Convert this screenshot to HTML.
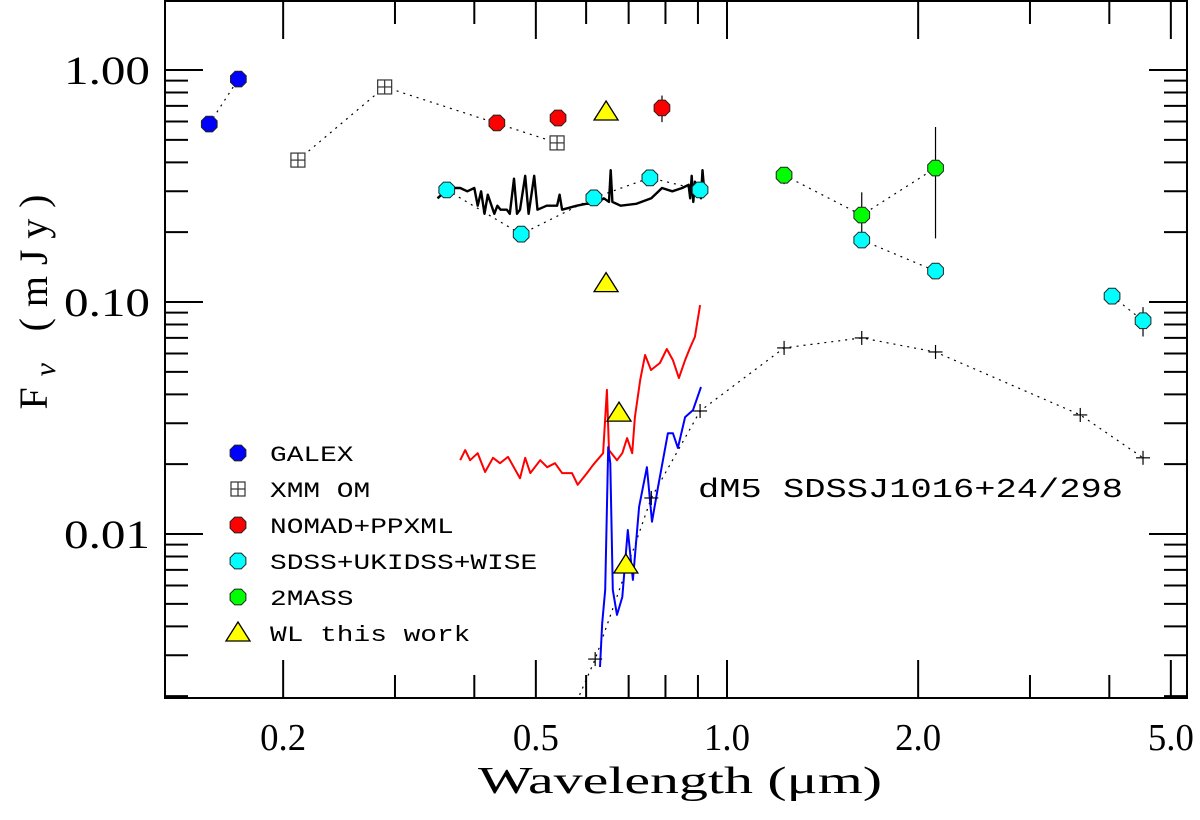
<!DOCTYPE html>
<html><head><meta charset="utf-8">
<style>
html,body{margin:0;padding:0;background:#fff;}
svg{display:block;}
</style></head>
<body>
<svg id="chart" width="1200" height="820" viewBox="0 0 1200 820" xmlns="http://www.w3.org/2000/svg">
<defs><clipPath id="plotclip"><rect x="165" y="1" width="1022" height="697"/></clipPath></defs>
<g id="plot" clip-path="url(#plotclip)"></g>
<rect x="165" y="1" width="1022" height="697" fill="none" stroke="#000" stroke-width="2"/>
<g id="axes"></g>
<g id="legend"></g>
<text x="698" y="497" font-family="Liberation Mono, monospace" font-size="27" textLength="425" lengthAdjust="spacingAndGlyphs">dM5 SDSSJ1016+24/298</text>
<text x="680" y="793" text-anchor="middle" font-family="Liberation Serif, serif" font-size="38" textLength="404" lengthAdjust="spacingAndGlyphs">Wavelength (μm)</text>
<text transform="translate(47,302) rotate(-90)" text-anchor="middle" font-family="Liberation Serif, serif" font-size="40" textLength="215" lengthAdjust="spacing">F<tspan font-style="italic" baseline-shift="-25%" font-size="30">ν</tspan>  (mJy)</text>
</svg>
<script>
// ---- data ----
const galexLam=[0.153,0.170];
const galexFlux=[0.585,0.914];
const xmmLam=[0.211,0.289,0.540];
const xmmFlux=[0.409,0.845,0.485];
const nomadLam=[0.434,0.542,0.790];
const nomadFlux=[0.591,0.621,0.686];
const nomadErr=[0.03,0.03,0.09];
const sdssLam=[0.362,0.474,0.617,0.756,0.907,1.63,2.13,4.04,4.52];
const sdssFlux=[0.304,0.196,0.281,0.343,0.304,0.185,0.136,0.106,0.083];
const sdssErr=[0,0,0,0,0,0,0,0.008,0.012];
const sdssLineGroups=[[0,1,2,3,4],[5,6],[7,8]];
const tmassLam=[1.23,1.63,2.13];
const tmassFlux=[0.352,0.237,0.378];
const tmassErrLo=[0.03,0.04,0.19];
const tmassErrHi=[0.03,0.06,0.19];
const wlLam=[0.645,0.645,0.676,0.693];
const wlFlux=[0.659,0.120,0.0332,0.00735];
const modelLam=[0.58,0.620,0.760,0.907,1.23,1.63,2.13,3.60,4.52];
const modelFlux=[0.0019,0.00289,0.0143,0.0339,0.0634,0.070,0.0609,0.0326,0.0213];
const blackLam=[0.35,0.36,0.37,0.38,0.39,0.40,0.405,0.41,0.415,0.42,0.43,0.435,0.44,0.45,0.455,0.462,0.467,0.472,0.481,0.487,0.497,0.503,0.52,0.54,0.545,0.55,0.58,0.60,0.62,0.64,0.652,0.656,0.66,0.68,0.72,0.76,0.79,0.82,0.85,0.87,0.875,0.88,0.885,0.89,0.90,0.91,0.915,0.92];
const blackFlux=[0.28,0.30,0.31,0.31,0.30,0.31,0.26,0.30,0.24,0.29,0.24,0.26,0.25,0.25,0.24,0.34,0.24,0.25,0.35,0.24,0.35,0.25,0.26,0.26,0.29,0.25,0.26,0.265,0.265,0.28,0.27,0.37,0.27,0.26,0.265,0.28,0.31,0.30,0.31,0.32,0.28,0.35,0.27,0.33,0.30,0.28,0.37,0.31];
const redLam=[0.380,0.387,0.394,0.405,0.416,0.428,0.439,0.452,0.472,0.481,0.490,0.508,0.521,0.536,0.550,0.570,0.582,0.602,0.615,0.638,0.647,0.652,0.671,0.684,0.696,0.709,0.716,0.730,0.743,0.759,0.784,0.804,0.822,0.840,0.859,0.874,0.890,0.907];
const redFlux=[0.0208,0.0230,0.0208,0.0223,0.0185,0.0213,0.0202,0.0215,0.0174,0.0213,0.0183,0.0208,0.0194,0.0202,0.0183,0.0183,0.0163,0.0183,0.0198,0.0223,0.0418,0.0230,0.0208,0.0223,0.0259,0.0223,0.0319,0.0461,0.0591,0.0509,0.0546,0.0627,0.0562,0.0470,0.0562,0.0633,0.0707,0.0970];
const blueLam=[0.631,0.636,0.643,0.650,0.655,0.661,0.671,0.684,0.698,0.711,0.727,0.748,0.762,0.779,0.807,0.822,0.837,0.859,0.884,0.910];
const blueFlux=[0.00267,0.00413,0.00574,0.0237,0.0202,0.00574,0.00448,0.00535,0.0104,0.00634,0.0131,0.0194,0.0113,0.0160,0.0272,0.0272,0.0235,0.0319,0.0342,0.0430];
const xMajor=[0.2,0.5,1.0,2.0,5.0];
const xMajorLabels=["0.2","0.5","1.0","2.0","5.0"];
const xMinor=[0.3,0.4,0.6,0.7,0.8,0.9,3,4];
const yMajor=[1,0.1,0.01];
const yMajorLabels=["1.00","0.10","0.01"];
const legendLabels=["GALEX","XMM OM","NOMAD+PPXML","SDSS+UKIDSS+WISE","2MASS","WL this work"];
const legendKinds=["galex","xmm","nomad","sdss","tmass","wl"];

// ---- scales ----
const X=l=>727+635*Math.log10(l);
const Y=v=>70-232*Math.log10(v);
const NS="http://www.w3.org/2000/svg";
const plot=document.getElementById('plot');
const axes=document.getElementById('axes');
const legend=document.getElementById('legend');
function mk(tag,attrs,parent){const e=document.createElementNS(NS,tag);for(const k in attrs)e.setAttribute(k,attrs[k]);parent.appendChild(e);return e;}
function pts(lx,ly){return lx.map((l,i)=>X(l).toFixed(1)+','+Y(ly[i]).toFixed(1)).join(' ');}
function octo(cx,cy,r){const a=[];for(let i=0;i<8;i++){const t=Math.PI/8+i*Math.PI/4;a.push((cx+r*Math.cos(t)).toFixed(1)+','+(cy+r*Math.sin(t)).toFixed(1));}return a.join(' ');}

function marker(kind,cx,cy,parent){
  let g=mk('g',{},parent);
  if(kind==='xmm'){
    mk('rect',{x:cx-7,y:cy-7,width:14,height:14,fill:'#fff',stroke:'#333','stroke-width':1.2},g);
    mk('line',{x1:cx-7,y1:cy,x2:cx+7,y2:cy,stroke:'#333','stroke-width':1.2},g);
    mk('line',{x1:cx,y1:cy-7,x2:cx,y2:cy+7,stroke:'#333','stroke-width':1.2},g);
  } else if(kind==='wl'){
    mk('polygon',{points:`${cx-12},${cy+8} ${cx+12},${cy+8} ${cx},${cy-11}`,fill:'#ffff00',stroke:'#000','stroke-width':1.3},g);
  } else if(kind==='plus'){
    mk('line',{x1:cx-7,y1:cy,x2:cx+7,y2:cy,stroke:'#000','stroke-width':1.2},g);
    mk('line',{x1:cx,y1:cy-7,x2:cx,y2:cy+7,stroke:'#000','stroke-width':1.2},g);
  } else {
    const col={galex:'#0000ff',nomad:'#ff0000',sdss:'#00ffff',tmass:'#00ff00'}[kind];
    mk('polygon',{points:octo(cx,cy,8.5),fill:col,stroke:'#222','stroke-width':1},g);
  }
  return g;
}
const dot={fill:'none',stroke:'#000','stroke-width':1.2,'stroke-dasharray':'2,5'};

// dotted connecting lines
let l;
l=mk('polyline',Object.assign({points:pts(galexLam,galexFlux)},dot),plot);


l=mk('polyline',Object.assign({points:pts(xmmLam,xmmFlux)},dot),plot);


sdssLineGroups.forEach(gr=>{
  const e=mk('polyline',Object.assign({points:pts(gr.map(i=>sdssLam[i]),gr.map(i=>sdssFlux[i]))},dot),plot);
  
  
});
l=mk('polyline',Object.assign({points:pts(tmassLam,tmassFlux)},dot),plot);


l=mk('polyline',Object.assign({points:pts(modelLam,modelFlux)},dot),plot);



// spectra
l=mk('polyline',{points:pts(blackLam,blackFlux),fill:'none',stroke:'#000','stroke-width':2.4,'stroke-linejoin':'round'},plot);


l=mk('polyline',{points:pts(redLam,redFlux),fill:'none',stroke:'#ff0000','stroke-width':2,'stroke-linejoin':'round'},plot);


l=mk('polyline',{points:pts(blueLam,blueFlux),fill:'none',stroke:'#0000ff','stroke-width':2,'stroke-linejoin':'round'},plot);



// error bars
function err(lam,v,lo,hi){
  const e=mk('line',{x1:X(lam),x2:X(lam),y1:Y(v+hi),y2:Y(Math.max(v-lo,1e-4)),stroke:'#000','stroke-width':1.2},plot);
  
  
}
nomadLam.forEach((lam,i)=>err(lam,nomadFlux[i],nomadErr[i],nomadErr[i]));
sdssLam.forEach((lam,i)=>{if(sdssErr[i]>0)err(lam,sdssFlux[i],sdssErr[i],sdssErr[i]);});
tmassLam.forEach((lam,i)=>err(lam,tmassFlux[i],tmassErrLo[i],tmassErrHi[i]));

// markers
function series(lam,flux,kind,name){
  lam.forEach((la,i)=>{
    const m=marker(kind,X(la),Y(flux[i]),plot);
    
    
  });
}
series(modelLam.slice(1),modelFlux.slice(1),'plus','model-point');
series(galexLam,galexFlux,'galex','galex-point');
series(xmmLam,xmmFlux,'xmm','xmm-om-point');
series(nomadLam,nomadFlux,'nomad','nomad-point');
series(sdssLam,sdssFlux,'sdss','sdss-point');
series(tmassLam,tmassFlux,'tmass','2mass-point');
series(wlLam,wlFlux,'wl','wl-point');

// axes ticks
const tk={stroke:'#000','stroke-width':2};
xMajor.forEach((v,i)=>{
  mk('line',Object.assign({x1:X(v),x2:X(v),y1:698,y2:660},tk),axes);
  mk('line',Object.assign({x1:X(v),x2:X(v),y1:1,y2:39},tk),axes);
  const t=mk('text',{x:X(v),y:750,'text-anchor':'middle','font-family':'Liberation Serif, serif','font-size':38,textLength:46,lengthAdjust:'spacingAndGlyphs'},axes);
  t.textContent=xMajorLabels[i];
  
  
});
xMinor.forEach(v=>{
  mk('line',Object.assign({x1:X(v),x2:X(v),y1:698,y2:675},tk),axes);
  mk('line',Object.assign({x1:X(v),x2:X(v),y1:1,y2:24},tk),axes);
});
yMajor.forEach((v,i)=>{
  mk('line',Object.assign({x1:165,x2:203,y1:Y(v),y2:Y(v)},tk),axes);
  mk('line',Object.assign({x1:1187,x2:1149,y1:Y(v),y2:Y(v)},tk),axes);
  const t=mk('text',{x:150,y:Y(v)+14,'text-anchor':'end','font-family':'Liberation Serif, serif','font-size':40,textLength:86,lengthAdjust:'spacingAndGlyphs'},axes);
  t.textContent=yMajorLabels[i];
  
  
});
[1,0.1,0.01,0.001].forEach(dec=>{
  for(let k=2;k<=9;k++){
    const v=dec*k; const y=Y(v);
    if(y<1||y>698)continue;
    mk('line',Object.assign({x1:165,x2:188,y1:y,y2:y},tk),axes);
    mk('line',Object.assign({x1:1187,x2:1164,y1:y,y2:y},tk),axes);
  }
});

// legend
legendLabels.forEach((lab,i)=>{
  const y=453+i*36;
  const g=mk('g',{},legend);
  
  
  marker(legendKinds[i],238,y,g);
  const t=mk('text',{x:270,y:y+8,'font-family':'Liberation Mono, monospace','font-size':22,textLength:lab.length*16.7,lengthAdjust:'spacingAndGlyphs'},g);
  t.textContent=lab;
});
</script>
</body></html>
